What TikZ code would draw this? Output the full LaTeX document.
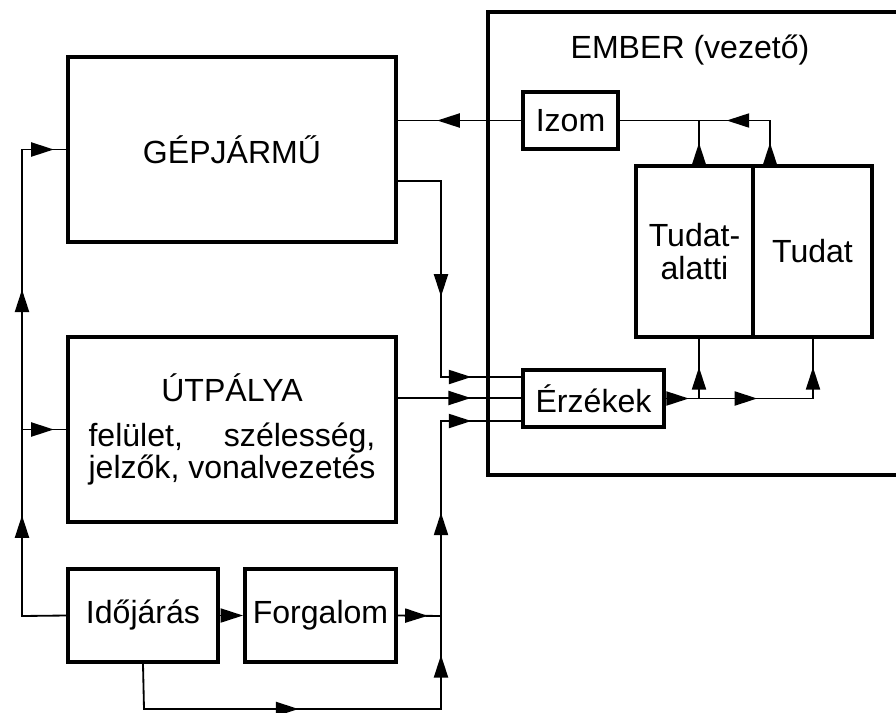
\documentclass[tikz,border=0pt]{standalone}
\usepackage{fontspec}
\setmainfont{Liberation Sans}
\usepackage{calc}
\usepackage{tikz}
\usetikzlibrary{arrows.meta,decorations.markings}

\tikzset{
  blokk/.style={draw, line width=2.8pt, inner sep=0pt, align=center,
    font=\fontsize{22.8}{23}\selectfont},
  vonal/.style={line width=1.3pt, line cap=rect},
  nyil/.style={vonal, postaction={decorate},
    decoration={markings, mark=at position #1 with {\arrow{Triangle[length=16pt,width=10pt]}}}},
}

\begin{document}
\begin{tikzpicture}[x=0.25mm,y=-0.25mm]
\useasboundingbox (0,0) rectangle (896,712);

\draw[line width=3.4pt] (910,12)--(488,12)--(488,475)--(910,475);
\node[font=\fontsize{22.8}{23}\selectfont] (ember) at (690,50) {EMBER (vezető)};

\node[blokk, minimum width=82mm, minimum height=46.25mm] (gep) at (232,149.5) {GÉPJÁRMŰ};
\node[blokk, minimum width=82mm, minimum height=46.25mm] (ut) at (232,429.5)
  {ÚTPÁLYA\\[9pt]\makebox[\widthof{jelzők, vonalvezetés}][s]{felület, szélesség,}\\jelzők, vonalvezetés};
\node[blokk, minimum width=37.5mm, minimum height=23.25mm] (ido) at (143,615.5) {Időjárás};
\node[blokk, minimum width=37.75mm, minimum height=23.25mm] (forg) at (320.5,615.5) {Forgalom};
\node[blokk, minimum width=23.75mm, minimum height=14.25mm] (izom) at (570.5,120.5) {Izom};
\node[blokk, minimum width=35.25mm, minimum height=14.25mm] (erz) at (593.5,398.5) {Érzékek};
\node[blokk, minimum width=29.25mm, minimum height=42.75mm] (tal) at (694.5,251.5) {Tudat-\\alatti};
\node[blokk, minimum width=29.75mm, minimum height=42.75mm] (tud) at (812.5,251.5) {Tudat};

\coordinate (bal1) at (22,616);
\coordinate (bal2) at (22,429.5);
\coordinate (bal3) at (22,149.5);
\coordinate (also) at (144,709);
\coordinate (j0) at (441,709);
\coordinate (j1) at (441,616);
\coordinate (j2) at (441,421);
\coordinate (g0) at (396,120.5);
\coordinate (g1) at (396,181);
\coordinate (g2) at (441,181);
\coordinate (g3) at (441,377);
\coordinate (u1) at (396,398);
\coordinate (e1) at (523,377);
\coordinate (e2) at (523,398);
\coordinate (e3) at (523,421);
\coordinate (i1) at (699,120.5);
\coordinate (i2) at (770,120.5);
\coordinate (t1) at (699,166);
\coordinate (t2) at (770,166);
\coordinate (s1) at (699,398.5);
\coordinate (s2) at (813,398.5);
\coordinate (t3) at (699,337);
\coordinate (t4) at (813,337);

\draw[vonal] (ido.west)--(bal1);
\draw[nyil=0.54] (bal1)--(bal2);
\draw[nyil=0.5] (bal2)--(bal3);
\draw[nyil=0.72] (bal2)--(ut.west);
\draw[nyil=0.72] (bal3)--(gep.west);

\draw[vonal,-{Triangle[length=16pt,width=10pt]}] (ido.east)--(forg.west);
\draw[nyil=0.69] (forg.east)--(j1);
\draw[vonal] (ido.south)--(also);
\draw[nyil=0.52] (also)--(j0);
\draw[nyil=0.58] (j0)--(j1);
\draw[nyil=0.53] (j1)--(j2);
\draw[nyil=0.37] (j2)--(e3);
\draw[nyil=0.59] (u1)--(e2);

\draw[vonal] (g1)--(g2);
\draw[nyil=0.59] (g2)--(g3);
\draw[nyil=0.37] (g3)--(e1);
\draw[nyil=0.67] (izom.west)--(g0);

\draw[vonal] (izom.east)--(i1);
\draw[nyil=0.61] (i2)--(i1);
\draw[nyil=0.51] (t1)--(i1);
\draw[nyil=0.51] (t2)--(i2);

\draw[nyil=0.69] (erz.east)--(s1);
\draw[nyil=0.51] (s1)--(t3);
\draw[nyil=0.51] (s1)--(s2);
\draw[nyil=0.51] (s2)--(t4);
\end{tikzpicture}
\end{document}
